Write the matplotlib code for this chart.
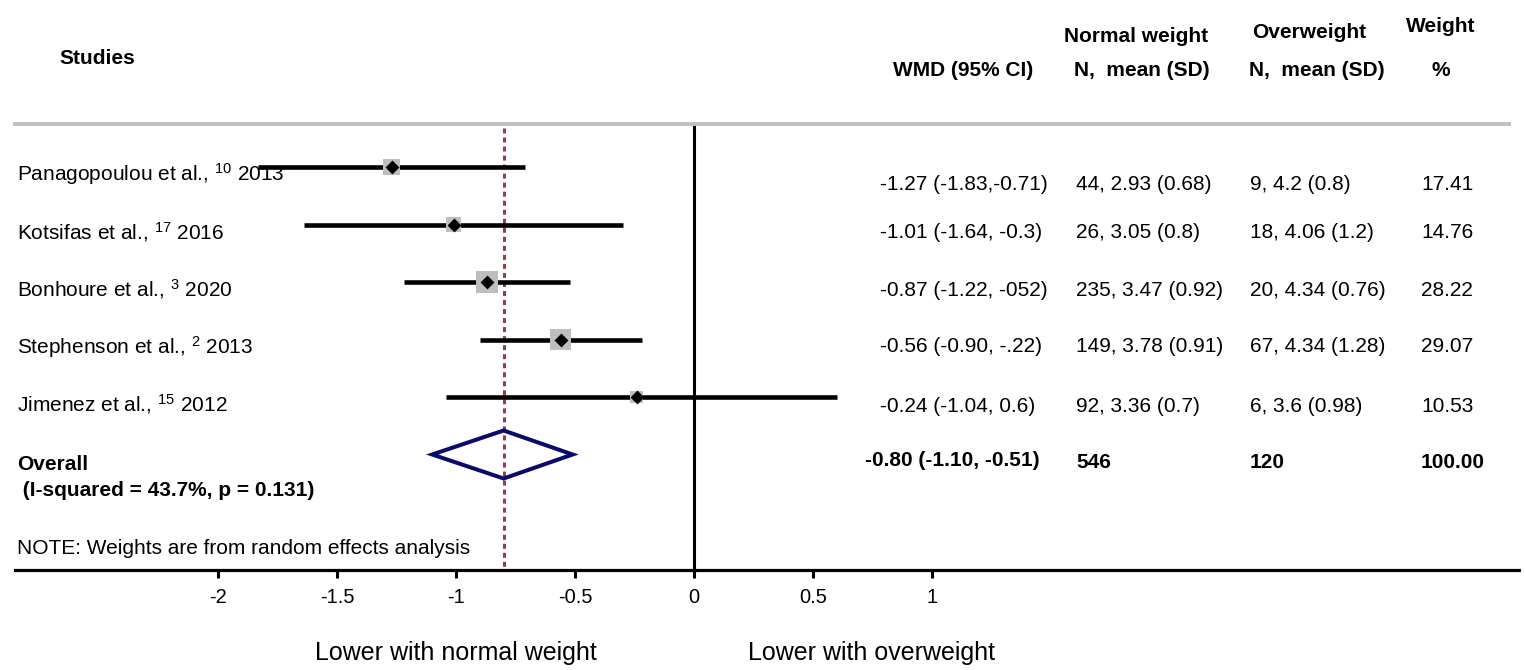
import matplotlib
matplotlib.use("Agg")
import matplotlib.pyplot as plt
from matplotlib.patches import Polygon
import numpy as np

plt.rcParams["font.family"] = ["Liberation Sans", "DejaVu Sans"]
plt.rcParams["mathtext.fontset"] = "custom"
plt.rcParams["mathtext.rm"] = "Liberation Sans"
plt.rcParams["mathtext.it"] = "Liberation Sans:italic"
plt.rcParams["mathtext.bf"] = "Liberation Sans:bold"
plt.rcParams["lines.scale_dashes"] = False

# ---- study data -------------------------------------------------------------
studies = ["Panagopoulou et al.,", "Kotsifas et al.,", "Bonhoure et al.,",
           "Stephenson et al.,", "Jimenez et al.,"]
refs = ["10", "17", "3", "2", "15"]
years = [2013, 2016, 2020, 2013, 2012]

wmd = [-1.27, -1.01, -0.87, -0.56, -0.24]
ci_low = [-1.83, -1.64, -1.22, -0.90, -1.04]
ci_high = [-0.71, -0.3, -0.52, -0.22, 0.6]
wmd_labels = ["-1.27 (-1.83,-0.71)", "-1.01 (-1.64, -0.3)", "-0.87 (-1.22, -052)",
              "-0.56 (-0.90, -.22)", "-0.24 (-1.04, 0.6)"]

normal_n = [44, 26, 235, 149, 92]
normal_mean = [2.93, 3.05, 3.47, 3.78, 3.36]
normal_sd = [0.68, 0.8, 0.92, 0.91, 0.7]

over_n = [9, 18, 20, 67, 6]
over_mean = [4.2, 4.06, 4.34, 4.34, 3.6]
over_sd = [0.8, 1.2, 0.76, 1.28, 0.98]

weights = [17.41, 14.76, 28.22, 29.07, 10.53]

overall_wmd = -0.80
overall_low = -1.10
overall_high = -0.51
overall_label = "-0.80 (-1.10, -0.51)"
overall_weight = "100.00"
heterogeneity = " (I-squared = 43.7%, p = 0.131)"

x_ticks = [-2, -1.5, -1, -0.5, 0, 0.5, 1]
x_tick_labels = ["-2", "-1.5", "-1", "-0.5", "0", "0.5", "1"]

# ---- canvas -----------------------------------------------------------------
W, H = 1525, 670
ZERO_PX, UNIT_PX = 694, 238          # horizontal scale of the effect axis
AXIS_Y = 570


def px_to_x(px):
    return (px - ZERO_PX) / UNIT_PX


fig = plt.figure(figsize=(W / 100, H / 100), dpi=100)
ax = fig.add_axes([0, 0, 1, 1])
ax.set_xlim(px_to_x(0), px_to_x(W))
ax.set_ylim(H, 0)
ax.set_facecolor("white")
for side in ("left", "right", "top"):
    ax.spines[side].set_visible(False)
ax.spines["bottom"].set_position(("data", AXIS_Y))
ax.spines["bottom"].set_bounds(px_to_x(15), px_to_x(1519))
ax.spines["bottom"].set_linewidth(2.3)
ax.set_yticks([])
ax.set_xticks(x_ticks)
ax.set_xticklabels(x_tick_labels)
ax.tick_params(axis="x", direction="out", length=6, width=2.2, labelsize=14.5, pad=7)

# overlay in pixel units for the table text
tx = fig.add_axes([0, 0, 1, 1], facecolor="none")
tx.set_xlim(0, W)
tx.set_ylim(H, 0)
tx.axis("off")

row_y = 167 + 57.5 * np.arange(len(studies) + 1)
overall_y = row_y[-1]

# header separator
tx.plot([13, 1511], [124, 124], color="#C0C0C0", lw=2.8, solid_capstyle="butt")

# no-effect line and pooled-estimate line
ax.plot([0, 0], [125, AXIS_Y], color="black", lw=2.2, solid_capstyle="butt")
ax.plot([overall_wmd, overall_wmd], [128, AXIS_Y], color="#A03A48", lw=2.2,
        dashes=(3.6, 2.9))

# study confidence intervals, weight boxes and point estimates
for i in range(len(studies)):
    ax.plot([ci_low[i], ci_high[i]], [row_y[i], row_y[i]], color="black", lw=3.3,
            solid_capstyle="butt", zorder=2)
side_pt = 21.5 * 0.72 * np.sqrt(np.array(weights) / max(weights))
ax.scatter(wmd, row_y[:-1], s=side_pt ** 2, marker="s", color="#BEBEBE",
           linewidths=0, zorder=3)
ax.scatter(wmd, row_y[:-1], s=50, marker="D", color="black", linewidths=0, zorder=4)

# pooled diamond
half_h = 24
diamond = Polygon([(overall_low, overall_y), (overall_wmd, overall_y - half_h),
                   (overall_high, overall_y), (overall_wmd, overall_y + half_h)],
                  closed=True, fill=False, edgecolor="#0A0A6E", lw=2.9, zorder=5)
ax.add_patch(diamond)

# ---- text -------------------------------------------------------------------
FS = 15
tx.text(97, 59, "Studies", ha="center", va="center", fontsize=FS, fontweight="bold")
tx.text(963, 71, "WMD (95% CI)", ha="center", va="center", fontsize=FS, fontweight="bold")
tx.text(1136, 36, "Normal weight", ha="center", va="center", fontsize=FS, fontweight="bold")
tx.text(1142, 71, "N,  mean (SD)", ha="center", va="center", fontsize=FS, fontweight="bold")
tx.text(1309, 32, "Overweight", ha="center", va="center", fontsize=FS, fontweight="bold")
tx.text(1317, 71, "N,  mean (SD)", ha="center", va="center", fontsize=FS, fontweight="bold")
tx.text(1441, 26, "Weight", ha="center", va="center", fontsize=FS, fontweight="bold")
tx.text(1441, 71, "%", ha="center", va="center", fontsize=FS, fontweight="bold")

for i, name in enumerate(studies):
    tx.text(17, row_y[i] + 7.5, f"{name} $^{{{refs[i]}}}$ {years[i]}",
            ha="left", va="center", fontsize=FS)

table_y = [185, 232, 290, 347, 407]
col_wmd, col_norm, col_over, col_w = 880, 1076, 1250, 1421
for i in range(len(studies)):
    y = table_y[i]
    tx.text(col_wmd, y, wmd_labels[i], ha="left", va="center", fontsize=FS)
    tx.text(col_norm, y, f"{normal_n[i]}, {normal_mean[i]} ({normal_sd[i]})",
            ha="left", va="center", fontsize=FS)
    tx.text(col_over, y, f"{over_n[i]}, {over_mean[i]} ({over_sd[i]})",
            ha="left", va="center", fontsize=FS)
    tx.text(col_w, y, f"{weights[i]:.2f}", ha="left", va="center", fontsize=FS)

tx.text(17, 464, "Overall", ha="left", va="center", fontsize=FS, fontweight="bold")
tx.text(17, 491, heterogeneity, ha="left", va="center", fontsize=FS, fontweight="bold")
tx.text(865, 461, overall_label, ha="left", va="center", fontsize=FS, fontweight="bold")
tx.text(col_norm, 463, f"{sum(normal_n)}", ha="left", va="center", fontsize=FS,
        fontweight="bold")
tx.text(col_over, 463, f"{sum(over_n)}", ha="left", va="center", fontsize=FS,
        fontweight="bold")
tx.text(col_w, 463, overall_weight, ha="left", va="center", fontsize=FS,
        fontweight="bold")

tx.text(17, 548, "NOTE: Weights are from random effects analysis", ha="left",
        va="center", fontsize=FS)

tx.text(456, 653, "Lower with normal weight", ha="center", va="center", fontsize=18)
tx.text(748, 653, "Lower with overweight", ha="left", va="center", fontsize=18)

fig.savefig("out.png", dpi=100, facecolor="white")
